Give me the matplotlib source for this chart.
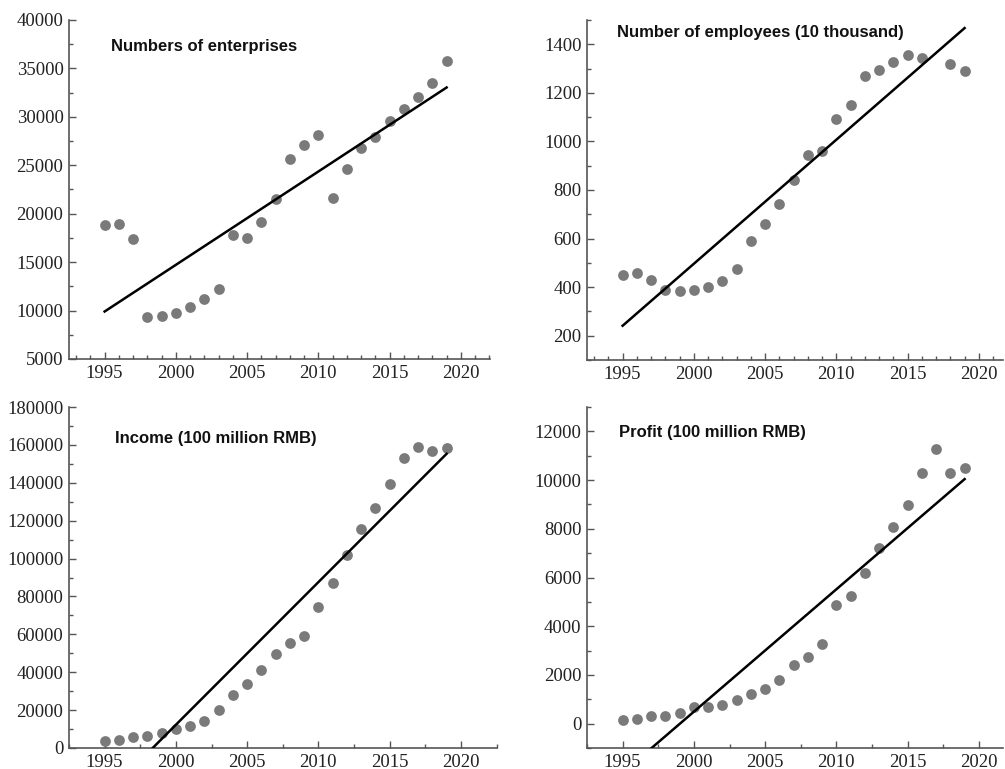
import numpy as np
import matplotlib.pyplot as plt
from matplotlib.ticker import MultipleLocator

years = np.arange(1995, 2020)

enterprises = [18800, 18900, 17400, 9300, 9400, 9700, 10400, 11200, 12200, 17800,
               17500, 19100, 21500, 25700, 27100, 28100, 21600, 24600, 26800, 27900,
               29600, 30800, 32000, 33500, 35800]

# no employee figure for 2017
emp_years = np.array([y for y in years if y != 2017])
employees = [450, 460, 430, 390, 383, 388, 400, 424, 476, 588, 662, 744, 843, 946,
             959, 1093, 1148, 1271, 1296, 1327, 1356, 1342, 1318, 1290]

income = [3900, 4400, 5600, 6500, 7900, 9900, 11800, 14400, 20100, 27800, 33600,
          41200, 49400, 55600, 59300, 74300, 87300, 102000, 115600, 126900, 139400,
          153300, 158900, 156600, 158400]

profit = [160, 210, 300, 320, 440, 690, 680, 750, 960, 1230, 1410, 1780, 2390, 2730,
          3260, 4870, 5230, 6190, 7230, 8090, 8970, 10290, 11270, 10290, 10480]

W, H = 1005, 769
fig = plt.figure(figsize=(W / 100, H / 100), dpi=100)

panels = [
    # title, x, y, box (l, t, r, b) in px, ylim, major, minor y, minor x, title pos
    ("Numbers of enterprises", years, enterprises, (69, 20, 490, 359),
     (5000, 40000), 5000, 2500, 1, (111, 46)),
    ("Number of employees (10 thousand)", emp_years, employees, (587, 20, 1003, 360),
     (100, 1500), 200, 100, 1, (617, 32)),
    ("Income (100 million RMB)", years, income, (69, 407, 497, 748),
     (0, 180000), 20000, 10000, 2.5, (115, 439)),
    ("Profit (100 million RMB)", years, profit, (587, 407, 1003, 748),
     (-1000, 13000), 2000, 1000, 2.5, (619, 433)),
]

for title, x, y, box, ylim, ymaj, ymin, xmin, tpos in panels:
    l, t, r, b = box
    ax = fig.add_axes([l / W, 1 - b / H, (r - l) / W, (b - t) / H])
    x0 = 1992.5
    ax.set_xlim(x0, x0 + (r - l) / 14.25)
    ax.set_ylim(*ylim)

    ax.scatter(x, y, s=60, color="#7a7a7a", zorder=2, linewidths=0)

    # least-squares trend line
    k, c = np.polyfit(x, y, 1)
    xs = np.array([1995, 2019])
    ax.plot(xs, k * xs + c, color="black", lw=1.8, zorder=3)

    ax.xaxis.set_minor_locator(MultipleLocator(xmin))
    ax.yaxis.set_major_locator(MultipleLocator(ymaj))
    ax.yaxis.set_minor_locator(MultipleLocator(ymin))
    ax.set_xticks(np.arange(1995, 2021, 5))
    if ylim[0] < 0:
        ax.set_yticks(np.arange(0, ylim[1] - 500, ymaj))

    for s in ("top", "right"):
        ax.spines[s].set_visible(False)
    for s in ("left", "bottom"):
        ax.spines[s].set_color("#555555")
        ax.spines[s].set_linewidth(1.2)

    ax.tick_params(which="both", direction="in", color="#555555", width=1)
    ax.tick_params(which="major", length=5)
    ax.tick_params(which="minor", length=3)
    ax.tick_params(axis="both", labelsize=13.5, labelcolor="#222222", pad=4)
    for lab in ax.get_xticklabels() + ax.get_yticklabels():
        lab.set_fontfamily("Liberation Serif")

    fig.text(tpos[0] / W, 1 - tpos[1] / H, title, fontsize=12, fontweight="bold",
             family="Liberation Sans", va="center", ha="left", color="#111111")

fig.savefig("out.png", dpi=100)
